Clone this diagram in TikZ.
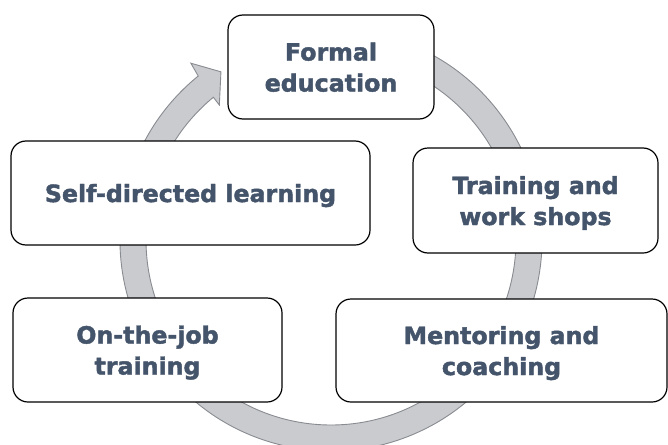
\documentclass[tikz,border=0pt]{standalone}
\usepackage{fontspec}
\setmainfont{DejaVu Sans}[BoldFeatures={FakeBold=1.8}]
\usetikzlibrary{calc}

\definecolor{ringfill}{RGB}{201,203,207}
\definecolor{ringline}{RGB}{136,139,144}
\definecolor{labeltext}{RGB}{68,84,106}

\tikzset{
  stagebox/.style={
    draw=black, line width=1.2pt, fill=white, rounded corners=15pt,
    inner sep=0pt, align=center, text depth=0pt, text=labeltext,
    font=\fontsize{23.7}{31}\selectfont\bfseries
  },
  cyclering/.style={fill=ringfill, draw=ringline, line width=0.9pt, line join=miter}
}

\begin{document}
\begin{tikzpicture}[x=1pt, y=1pt]
  \clip (0,0) rectangle (668,-444);

  % centre of the circular arrow
  \coordinate (C) at (331,-240);

  % circular arrow running clockwise, its head pointing at the top box
  \draw[cyclering] ($(C)+(80:211)$)
      arc[start angle=80, end angle=-231, radius=211]
      -- ($(C)+(128.4:225.6)$)
      -- ($(C)+(123.2:201)$)
      -- ($(C)+(129.6:175.2)$)
      -- ($(C)+(129.5:185)$)
      arc[start angle=-230.5, end angle=80, radius=185]
      -- cycle;

  % the five stages
  \node[stagebox, minimum width=206pt, minimum height=104pt] (formal)
    at (331,-67) {Formal\\education};
  \node[stagebox, minimum width=245pt, minimum height=105pt] (training)
    at (535.5,-200.5) {Training and\\work shops};
  \node[stagebox, minimum width=331pt, minimum height=103pt] (mentor)
    at (501.5,-350.5) {Mentoring and\\coaching};
  \node[stagebox, minimum width=269pt, minimum height=104pt] (onjob)
    at (147.5,-350) {On-the-job\\training};
  \node[stagebox, minimum width=359pt, minimum height=104pt] (self)
    at (190.5,-193) {Self-directed learning};
\end{tikzpicture}
\end{document}
